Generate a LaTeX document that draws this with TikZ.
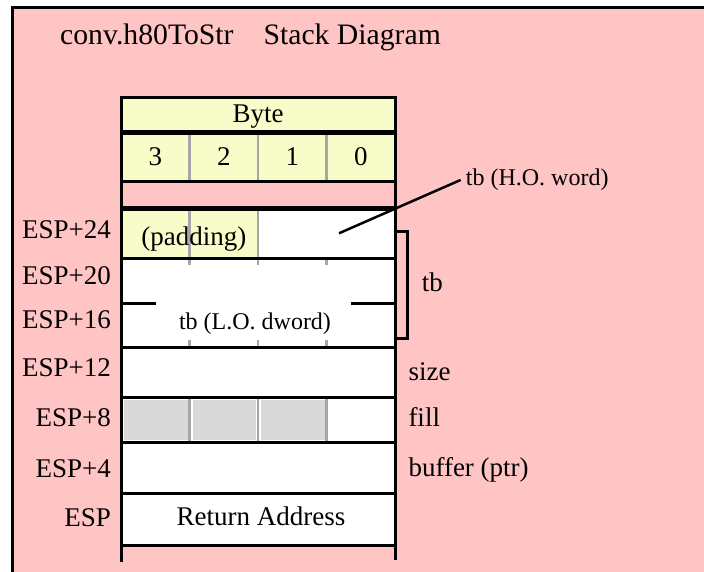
\documentclass[tikz,border=0pt]{standalone}
\usepackage{fontspec}
\setmainfont{Liberation Serif}
\usetikzlibrary{positioning}
\definecolor{cpink}{HTML}{FFC4C4}
\definecolor{cyellow}{HTML}{F8FCC8}
\definecolor{cgrid}{HTML}{A6A6A6}
\definecolor{cshade}{HTML}{D9D9D9}
\newcommand{\titlefont}{\fontsize{29.7}{34}\selectfont}
\newcommand{\lblfont}{\fontsize{27}{32}\selectfont}
\newcommand{\smallfont}{\fontsize{24}{28}\selectfont}
\tikzset{
  wall/.style={line width=3pt},
  slot/.style={wall, fill=white},
  grid/.style={draw=cgrid, line width=2.3pt},
  title/.style={font=\titlefont, anchor=base west, inner sep=0pt},
  esp/.style={font=\lblfont, anchor=base east, inner sep=0pt},
  note/.style={font=\lblfont, anchor=base west, inner sep=0pt},
  inbox/.style={font=\lblfont, anchor=base, inner sep=0pt},
  small/.style={font=\smallfont, inner sep=0pt},
  leader/.style={line width=2.5pt},
}

\begin{document}
\begin{tikzpicture}[x=1pt, y=-1pt]
  \useasboundingbox (0,0) rectangle (704,572);
  % background and frame
  \fill[cpink] (12,8) rectangle (704,572);
  \draw[wall] (12,572) -- (12,8) -- (704,8);
  \node[title] (ttl) at (60,44.3) {conv.h80ToStr\hspace{30pt}Stack Diagram};

  % byte header
  \draw[wall, fill=cyellow] (121,98) rectangle (395,131.5);
  \draw[wall, fill=cyellow] (121,133.5) rectangle (395,181.5);
  \foreach \x in {189.5,258,326.5} \draw[grid] (\x,135) -- (\x,180);
  \node[inbox] (byte) at (258,122.7) {Byte};
  \foreach \n [count=\i from 0] in {3,2,1,0}
    \node[inbox] (b\n) at (155.25+68.5*\i,165.7) {\n};

  % stack slots
  \draw[wall] (121,181.5) rectangle (395,207.5);
  \foreach \t/\b in {209.5/258.5, 258.5/347.5, 347.5/397.5, 397.5/442.5, 442.5/493.5, 493.5/545}
    \fill[white] (121,\t) rectangle (395,\b);
  \fill[cyellow] (121,209.5) rectangle (258,258.5);
  \foreach \x in {124.2,192.7,261.2}
    \fill[cshade] (\x,400) rectangle ++(63.5,40);
  \foreach \x in {189.5,258} \draw[grid] (\x,209.5) -- (\x,265);
  \draw[grid] (326.5,258.5) -- (326.5,265);
  \foreach \x in {189.5,258,326.5} {
    \draw[grid] (\x,340) -- (\x,347.5);
    \draw[grid] (\x,397.5) -- (\x,442.5);
  }
  \foreach \t/\b in {209.5/258.5, 258.5/347.5, 347.5/397.5, 397.5/442.5, 442.5/493.5, 493.5/545}
    \draw[wall] (121,\t) rectangle (395,\b);
  \draw[wall] (121,98) -- (121,561.5) (395,98) -- (395,560);
  \draw[wall] (121,303.5) -- (156,303.5) (351,303.5) -- (397,303.5);

  % slot contents
  \node[inbox] (pad) at (193.8,245) {(padding)};
  \node[small, anchor=base] (loword) at (255,329.3) {tb (L.O. dword)};
  \node[inbox] (ret) at (261,525.7) {Return Address};

  % offsets
  \node[esp] (e24) at (111,238.3) {ESP+24};
  \node[esp] (e20) at (111,284.3) {ESP+20};
  \node[esp] (e16) at (111,328.3) {ESP+16};
  \node[esp] (e12) at (111,376.7) {ESP+12};
  \node[esp] (e8) at (111,426.7) {ESP+8};
  \node[esp] (e4) at (111,477.3) {ESP+4};
  \node[esp] (e0) at (111,526.7) {ESP};

  % names on the right
  \node[small, anchor=base west, inner xsep=5pt] (howord) at (460.7,185.7) {tb (H.O. word)};
  \coordinate (hotip) at (339,233.3);
  \draw[leader] (howord.west) -- (hotip);
  \coordinate (brtop) at (397,231.5);
  \coordinate (brbot) at (397,338);
  \draw[wall] (brtop) -- ++(10.5,0) |- (brbot);
  \node[note] (tb) at (421.7,291) {tb};
  \node[note] (size) at (408.3,380.7) {size};
  \node[note] (fill) at (408.3,426.7) {fill};
  \node[note] (buf) at (408.3,476.7) {buffer (ptr)};
\end{tikzpicture}
\end{document}
